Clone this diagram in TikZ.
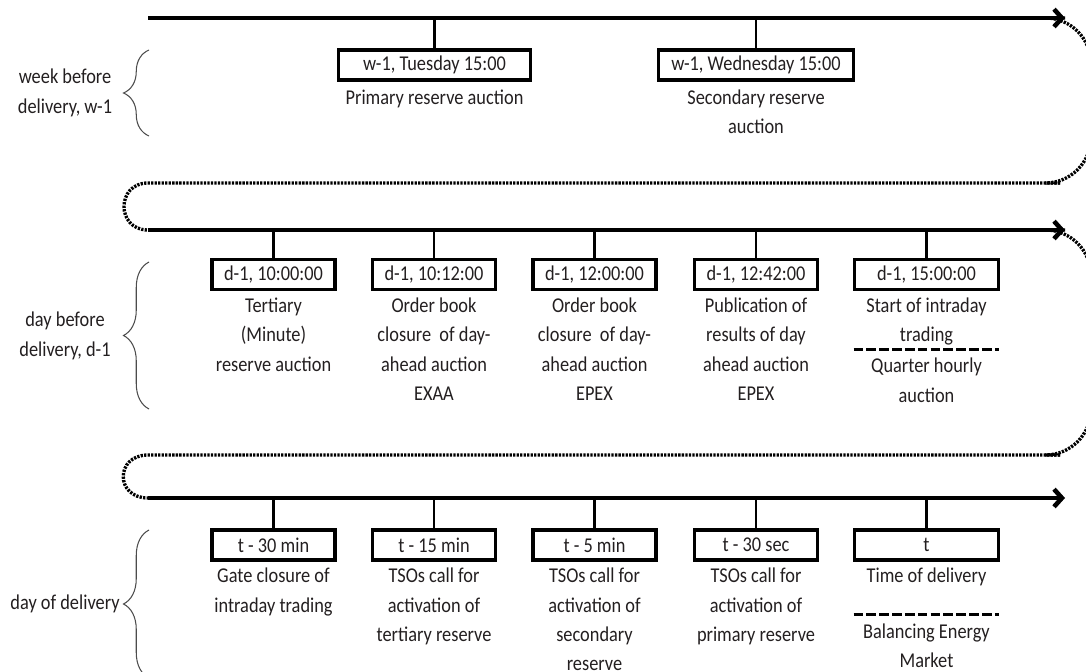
\documentclass[tikz,border=0pt]{standalone}
\usepackage{fontspec}
\setmainfont{Carlito}[FakeStretch=0.87]
\usetikzlibrary{arrows.meta,positioning,decorations.pathreplacing}
\definecolor{txtclr}{RGB}{35,31,32}
\tikzset{
  txt/.style={font=\fontsize{12}{16.7}\selectfont,text=txtclr},
  tline/.style={line width=2.6pt,-{Straight Barb[length=4.5pt,width=10pt]}},
  tick/.style={line width=1.5pt},
  tbox/.style={txt,draw,line width=2pt,minimum width=2.46cm,
    minimum height=0.6cm,inner sep=0pt},
  desc/.style={txt,align=center,inner sep=0pt},
  lbl/.style={txt,align=center},
  brc/.style={decorate,decoration={brace,amplitude=14.5pt},
    line width=0.6pt,draw=black!70},
  dotline/.style={line width=1.9pt,dash pattern=on 1.3pt off 0.7pt},
  sepline/.style={line width=1.6pt,dash pattern=on 5.5pt off 1.8pt},
  sepnode/.style={desc,minimum width=2.9cm,inner ysep=5pt},
}

\begin{document}
\begin{tikzpicture}[x=0.02cm,y=-0.02cm]
  \useasboundingbox (0,0) rectangle (1086,672);
  \clip (0,0) rectangle (1086,672);

  %% Timelines
  \coordinate (t1s) at (148,18);  \coordinate (t1e) at (1065,18);
  \coordinate (t2s) at (148,230); \coordinate (t2e) at (1065,230);
  \coordinate (t3s) at (148,498); \coordinate (t3e) at (1065,498);
  \draw[tline] (t1s) -- (t1e);
  \draw[tline] (t2s) -- (t2e);
  \draw[tline] (t3s) -- (t3e);

  %% Dotted returns
  \coordinate (m1e) at (1060,183); \coordinate (m1s) at (148,183);
  \coordinate (m2e) at (1060,455); \coordinate (m2s) at (148,455);
  \draw[dotline,rounded corners=26] (t1e) -- ++(26,0) |- (m1e);
  \draw[dotline] (m1e) -- (m1s) .. controls +(-32,0) and +(-32,0) .. (t2s);
  \draw[dotline,rounded corners=26] (t2e) -- ++(26,0) |- (m2e);
  \draw[dotline] (m2e) -- (m2s) .. controls +(-33,0) and +(-33,0) .. (t3s);

  %% Row 1: week before delivery
  \node[lbl] (wlbl) at (65,93) {week before\\delivery, w-1};
  \draw[brc] (149,136) -- (149,50);
  \foreach \x/\w/\tm/\txt/\i in {434.5/3.84cm/{w-1, Tuesday 15:00}/{Primary reserve auction}/1,
                                 756/3.9cm/{w-1, Wednesday 15:00}/{Secondary reserve\\auction}/2}{
    \node[tbox,minimum width=\w] (w\i) at (\x,65) {\tm};
    \node[desc,below=4.5pt of w\i] (wd\i) {\txt};
    \draw[tick] (w\i.north) -- (w\i.north |- t1s);
  }

  %% Row 2: day before delivery
  \node[lbl] (dlbl) at (65,336) {day before\\delivery, d-1};
  \draw[brc] (149,409) -- (149,262);
  \foreach \x/\w/\tm/\txt/\i in {273.5/2.46cm/{d-1, 10:00:00}/{Tertiary\\(Minute)\\reserve auction}/1,
                                 434/2.46cm/{d-1, 10:12:00}/{Order book\\closure~ of day-\\ahead auction\\EXAA}/2,
                                 594.5/2.46cm/{d-1, 12:00:00}/{Order book\\closure~ of day-\\ahead auction\\EPEX}/3,
                                 756/2.46cm/{d-1, 12:42:00}/{Publication of\\results of day\\ahead auction\\EPEX}/4,
                                 926.5/2.88cm/{d-1, 15:00:00}/{Start of intraday\\trading}/5}{
    \node[tbox,minimum width=\w] (d\i) at (\x,274.5) {\tm};
    \node[desc,below=3.5pt of d\i] (dd\i) {\txt};
    \draw[tick] (d\i.north) -- (d\i.north |- t2s);
  }
  \node[sepnode,below=2pt of dd5] (dq5) {Quarter hourly\\auction};
  \draw[sepline] (dq5.north west) -- (dq5.north east);

  %% Row 3: day of delivery
  \node[lbl] (tlbl) at (65,604) {day of delivery};
  \draw[brc] (149,678) -- (149,530);
  \foreach \x/\w/\tm/\txt/\i in {273.5/2.46cm/{t - 30 min}/{Gate closure of\\intraday trading}/1,
                                 434/2.46cm/{t - 15 min}/{TSOs call for\\activation of\\tertiary reserve}/2,
                                 594.5/2.46cm/{t - 5 min}/{TSOs call for\\activation of\\secondary\\reserve}/3,
                                 756/2.46cm/{t - 30 sec}/{TSOs call for\\activation of\\primary reserve}/4,
                                 926.5/2.88cm/{t}/{Time of delivery}/5}{
    \node[tbox,minimum width=\w] (t\i) at (\x,545) {\tm};
    \node[desc,below=3.5pt of t\i] (td\i) {\txt};
    \draw[tick] (t\i.north) -- (t\i.north |- t3s);
  }
  \node[sepnode,below=16pt of td5] (tq5) {Balancing Energy\\Market};
  \draw[sepline] (tq5.north west) -- (tq5.north east);

\end{tikzpicture}
\end{document}
